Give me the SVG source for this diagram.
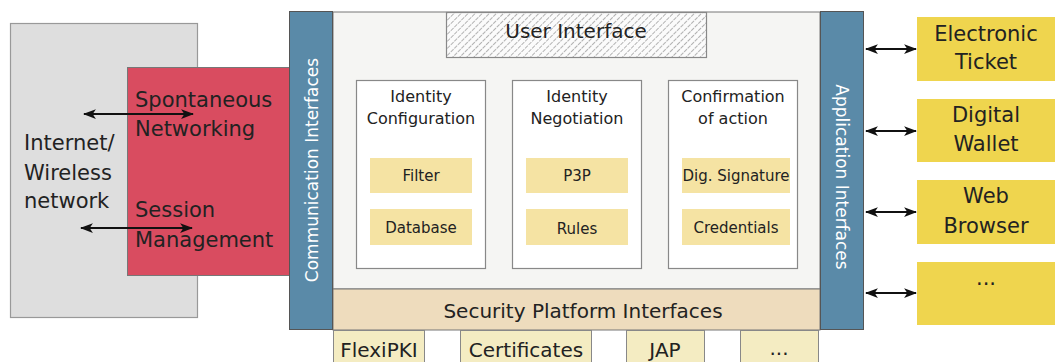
<svg xmlns="http://www.w3.org/2000/svg" width="1055" height="362" viewBox="0 0 1055 362">
<defs>
<pattern id="hatch" width="5" height="5" patternUnits="userSpaceOnUse" patternTransform="rotate(45)">
<rect width="5" height="5" fill="#fbfbfb"/>
<line x1="0" y1="0" x2="0" y2="5" stroke="#777" stroke-width="1.1" stroke-dasharray="3,1"/>
</pattern>
<marker id="ah" viewBox="0 0 12 10" refX="11" refY="5" markerWidth="13" markerHeight="11" markerUnits="userSpaceOnUse" orient="auto-start-reverse">
<path d="M0,0.5 L12,5 L0,9.5 L3,5 Z" fill="#111"/>
</marker>
<style>
text{font-family:"DejaVu Sans","Liberation Sans",sans-serif;fill:#222}
.big{font-size:21px}
.mid{font-size:16px}
.sm{font-size:15px}
.lbl{font-size:20px}
.wt{fill:#fff;font-size:17px}
.tile{fill:#f5e3a3}
.app{fill:#efd54e}
.bot{fill:#f4ecc2;stroke:#888;stroke-width:1}
.col{fill:#fff;stroke:#888;stroke-width:1.2}
.bar{fill:#5a8aa8;stroke:#555;stroke-width:1}
.arr{stroke:#111;stroke-width:2;fill:none;marker-start:url(#ah);marker-end:url(#ah)}
</style>
</defs>
<g id="network">
<rect x="10.5" y="23.5" width="187" height="294" fill="#dedede" stroke="#999" stroke-width="1.2"/>
<text class="big" x="24" y="150">Internet/</text>
<text class="big" x="24" y="180">Wireless</text>
<text class="big" x="24" y="208">network</text>
</g>
<g id="networking">
<rect x="127.5" y="67.5" width="162" height="208" fill="#d94c60" stroke="#777" stroke-width="1"/>
<text class="big" x="135" y="107">Spontaneous</text>
<text class="big" x="135" y="136">Networking</text>
<text class="big" x="135" y="217">Session</text>
<text class="big" x="135" y="247">Management</text>
</g>
<g id="core">
<rect x="333" y="12" width="487" height="277" fill="#f5f5f3" stroke="#777" stroke-width="1"/>
</g>
<g id="user-interface">
<rect x="446.5" y="12.5" width="260" height="45" fill="url(#hatch)" stroke="#888" stroke-width="1.2"/>
<text class="lbl" x="576" y="38" text-anchor="middle">User Interface</text>
</g>
<g id="identity-configuration">
<rect class="col" x="356.5" y="80.5" width="129" height="188"/>
<text class="mid" x="421" y="102" text-anchor="middle">Identity</text>
<text class="mid" x="421" y="124" text-anchor="middle">Configuration</text>
<rect class="tile" x="370" y="158" width="102" height="35"/>
<text class="sm" x="421" y="181" text-anchor="middle">Filter</text>
<rect class="tile" x="370" y="209" width="102" height="36"/>
<text class="sm" x="421" y="233" text-anchor="middle">Database</text>
</g>
<g id="identity-negotiation">
<rect class="col" x="512.5" y="80.5" width="129" height="188"/>
<text class="mid" x="577" y="102" text-anchor="middle">Identity</text>
<text class="mid" x="577" y="124" text-anchor="middle">Negotiation</text>
<rect class="tile" x="526" y="158" width="102" height="35"/>
<text class="sm" x="577" y="181" text-anchor="middle">P3P</text>
<rect class="tile" x="526" y="209" width="102" height="36"/>
<text class="sm" x="577" y="234" text-anchor="middle">Rules</text>
</g>
<g id="confirmation">
<rect class="col" x="668.5" y="80.5" width="129" height="188"/>
<text class="mid" x="733" y="102" text-anchor="middle">Confirmation</text>
<text class="mid" x="733" y="124" text-anchor="middle">of action</text>
<rect class="tile" x="682" y="158" width="108" height="35"/>
<text class="sm" x="736" y="181" text-anchor="middle">Dig. Signature</text>
<rect class="tile" x="682" y="209" width="108" height="36"/>
<text class="sm" x="736" y="233" text-anchor="middle">Credentials</text>
</g>
<g id="security-platform">
<rect x="333" y="289" width="487" height="41" fill="#eedcbd" stroke="#777" stroke-width="1"/>
<text class="lbl" x="583" y="318" text-anchor="middle">Security Platform Interfaces</text>
</g>
<g id="communication-interfaces">
<rect class="bar" x="289.5" y="11.5" width="43" height="318"/>
<text class="wt" transform="translate(318,170) rotate(-90)" text-anchor="middle">Communication Interfaces</text>
</g>
<g id="application-interfaces">
<rect class="bar" x="820.5" y="11.5" width="43" height="318"/>
<text class="wt" transform="translate(836,177) rotate(90)" text-anchor="middle">Application Interfaces</text>
</g>
<g id="flexipki">
<rect class="bot" x="333.5" y="330.5" width="91" height="40"/>
<text class="lbl" x="379" y="357" text-anchor="middle">FlexiPKI</text>
</g>
<g id="certificates">
<rect class="bot" x="460.5" y="330.5" width="131" height="40"/>
<text class="lbl" x="526" y="357" text-anchor="middle">Certificates</text>
</g>
<g id="jap">
<rect class="bot" x="626.5" y="330.5" width="78" height="40"/>
<text class="lbl" x="665" y="357" text-anchor="middle">JAP</text>
</g>
<g id="more-platform">
<rect class="bot" x="740.5" y="330.5" width="78" height="40"/>
<text class="lbl" x="779" y="355" text-anchor="middle">...</text>
</g>
<g id="electronic-ticket">
<rect class="app" x="917" y="17" width="140" height="64"/>
<text class="big" x="986" y="41" text-anchor="middle">Electronic</text>
<text class="big" x="986" y="69" text-anchor="middle">Ticket</text>
</g>
<g id="digital-wallet">
<rect class="app" x="917" y="99" width="140" height="63"/>
<text class="big" x="986" y="122" text-anchor="middle">Digital</text>
<text class="big" x="986" y="151" text-anchor="middle">Wallet</text>
</g>
<g id="web-browser">
<rect class="app" x="917" y="180" width="140" height="64"/>
<text class="big" x="986" y="203" text-anchor="middle">Web</text>
<text class="big" x="986" y="233" text-anchor="middle">Browser</text>
</g>
<g id="more-apps">
<rect class="app" x="917" y="262" width="140" height="63"/>
<text class="big" x="986" y="285" text-anchor="middle">...</text>
</g>
<g id="connectors">
<line class="arr" x1="84" y1="114" x2="193" y2="114"/>
<line class="arr" x1="81" y1="228" x2="192" y2="228"/>
<line class="arr" x1="866" y1="49" x2="916" y2="49"/>
<line class="arr" x1="866" y1="131" x2="916" y2="131"/>
<line class="arr" x1="866" y1="212" x2="916" y2="212"/>
<line class="arr" x1="866" y1="293" x2="916" y2="293"/>
</g>
</svg>
